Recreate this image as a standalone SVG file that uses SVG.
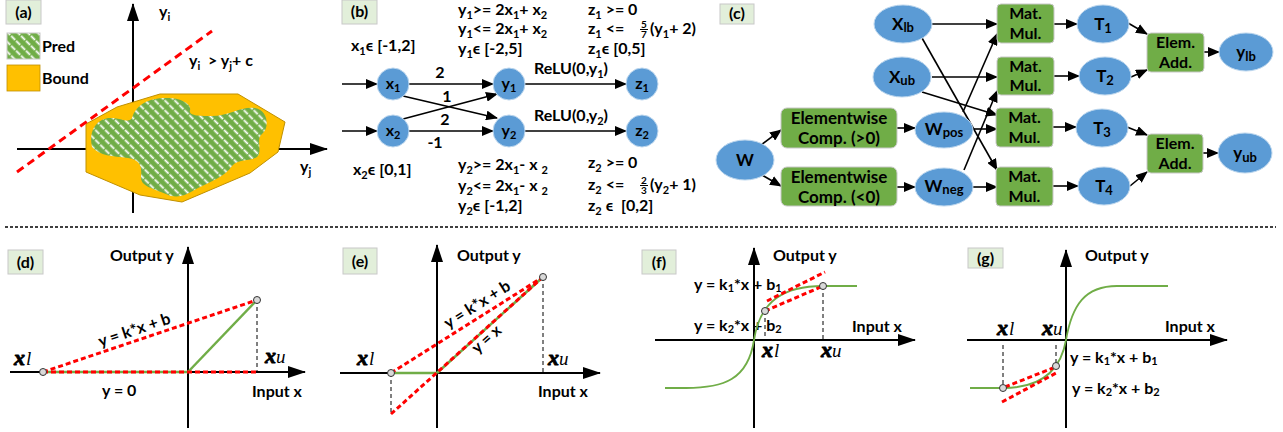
<svg xmlns="http://www.w3.org/2000/svg" width="1283" height="432" viewBox="0 0 1283 432">
<defs>
<style>
.t{font-family:Lato,"Open Sans","Liberation Sans",sans-serif;font-weight:bold;font-size:16px;fill:#000}
.f17{font-size:17px}
.s{font-size:11px}
.ss{font-size:13px}
.fr{font-size:10px}
.m{text-anchor:middle}
.lab{fill:#E2EFDA;stroke:#C8C8C8;stroke-width:1}
.blue{fill:#5B9BD5;stroke:#BDD7EE;stroke-width:1}
.grn{fill:#70AD47;stroke:#C8C8C8;stroke-width:1}
.e{stroke:#000;stroke-width:1.6;fill:none;marker-end:url(#ah)}
.ax{stroke:#000;stroke-width:2;fill:none;marker-end:url(#axh)}
.rd{stroke:#FF0000;stroke-width:3;fill:none;stroke-dasharray:5 3}
.gl{stroke:#70AD47;stroke-width:2.5;fill:none}
.gc{stroke:#70AD47;stroke-width:1.8;fill:none}
.bd{stroke:#000;stroke-width:1;stroke-dasharray:4 3;fill:none}
.pt{fill:#D9D9D9;stroke:#333;stroke-width:1}
.xi{font-family:"Liberation Serif",serif;font-style:italic;font-size:21px;fill:#000}
.xb{font-weight:bold;font-size:22px;stroke:#000;stroke-width:0.9}
.xs{font-weight:normal;font-size:19px}
</style>
<marker id="ah" viewBox="0 0 12 10" refX="11" refY="5" markerWidth="12" markerHeight="10" markerUnits="userSpaceOnUse" orient="auto"><path d="M0,0 L12,5 L0,10 z" fill="#000"/></marker>
<marker id="axh" viewBox="0 0 18 12" refX="17" refY="6" markerWidth="18" markerHeight="12" markerUnits="userSpaceOnUse" orient="auto"><path d="M0,0 L18,6 L0,12 z" fill="#000"/></marker>
<pattern id="hatch" patternUnits="userSpaceOnUse" width="7" height="7" patternTransform="rotate(-45)"><rect width="7" height="7" fill="#70AD47"/><line x1="3.5" y1="0" x2="3.5" y2="7" stroke="#FFFFFF" stroke-width="1.8" stroke-dasharray="4 1.2"/></pattern>
</defs>

<!-- separator -->
<line x1="5" y1="227" x2="1276" y2="227" stroke="#000" stroke-width="1.3" stroke-dasharray="3 2"/>

<!-- ===== Panel (a) ===== -->
<g id="panel-a">
<rect class="lab" x="6" y="0" width="35" height="24"/>
<text class="t m" x="23.5" y="18">(a)</text>
<rect x="7" y="33" width="33" height="26" fill="url(#hatch)" stroke="#C8C8C8"/>
<text class="t" x="42" y="52">Pred</text>
<rect x="7" y="65" width="33" height="26" fill="#FFC000" stroke="#C09000" stroke-width="0.8"/>
<text class="t" x="42" y="84">Bound</text>
<line class="ax" x1="133" y1="213" x2="133" y2="4"/>
<line class="ax" x1="17" y1="149" x2="327" y2="149"/>
<polygon points="86,124 117,107 160,94 238,94 285,122 278,152 250,173 182,202 140,195 86,172" fill="#FFC000" stroke="#C09000" stroke-width="1"/>
<path d="M92,147 C88,130 98,118 110,118 C120,117 128,124 132,118 C136,104 150,98 165,98 C178,97 192,103 190,110 C188,116 200,116 212,116 C228,116 242,106 255,108 C268,110 270,128 262,134 C256,138 262,150 258,156 C252,162 238,158 232,166 C226,176 210,182 198,188 C188,194 178,200 166,194 C152,188 140,186 141,176 C142,166 140,160 128,158 C112,156 100,156 92,147 Z" fill="url(#hatch)"/>
<line x1="17" y1="172" x2="212" y2="31" stroke="#FF0000" stroke-width="3" stroke-dasharray="8 5"/>
<text class="t" x="159" y="17">y<tspan class="s" dy="4">i</tspan></text>
<text class="t" x="189" y="66">y<tspan class="s" dy="4">i</tspan><tspan dy="-4" xml:space="preserve">  &gt; y</tspan><tspan class="s" dy="4">j</tspan><tspan dy="-4">+ c</tspan></text>
<text class="t" x="300" y="172">y<tspan class="s" dy="4">j</tspan></text>
</g>

<!-- ===== Panel (b) ===== -->
<g id="panel-b-label">
<rect class="lab" x="342" y="0" width="35" height="24"/>
<text class="t m" x="359.5" y="17">(b)</text>
</g>
<g id="b-connectors">
<line class="e" x1="342" y1="84" x2="377" y2="84"/>
<line class="e" x1="342" y1="131" x2="377" y2="131"/>
<line class="e" x1="409" y1="84" x2="493" y2="84"/>
<line class="e" x1="409" y1="131" x2="493" y2="131"/>
<line class="e" x1="403" y1="96" x2="497" y2="118"/>
<line class="e" x1="403" y1="119" x2="497" y2="94"/>
<line class="e" x1="525" y1="84" x2="626" y2="84"/>
<line class="e" x1="525" y1="131" x2="626" y2="131"/>
<text class="t m" x="440" y="78">2</text>
<text class="t m" x="447" y="102">1</text>
<text class="t m" x="445" y="125">2</text>
<text class="t m" x="435" y="148">-1</text>
<text class="t" x="534" y="74">ReLU(0,y<tspan class="s" dy="4">1</tspan><tspan dy="-4">)</tspan></text>
<text class="t" x="534" y="121">ReLU(0,y<tspan class="s" dy="4">2</tspan><tspan dy="-4">)</tspan></text>
</g>
<g id="node-x1"><circle class="blue" cx="393" cy="84" r="16"/><text class="t m" x="393" y="89">x<tspan class="s" dy="3">1</tspan></text></g>
<g id="node-x2"><circle class="blue" cx="393" cy="131" r="16"/><text class="t m" x="393" y="136">x<tspan class="s" dy="3">2</tspan></text></g>
<g id="node-y1"><circle class="blue" cx="509" cy="84" r="16"/><text class="t m" x="509" y="89">y<tspan class="s" dy="3">1</tspan></text></g>
<g id="node-y2"><circle class="blue" cx="509" cy="131" r="16"/><text class="t m" x="509" y="136">y<tspan class="s" dy="3">2</tspan></text></g>
<g id="node-z1"><circle class="blue" cx="642" cy="84" r="16"/><text class="t m" x="642" y="89">z<tspan class="s" dy="3">1</tspan></text></g>
<g id="node-z2"><circle class="blue" cx="642" cy="131" r="16"/><text class="t m" x="642" y="136">z<tspan class="s" dy="3">2</tspan></text></g>
<g id="b-texts">
<text class="t" x="351" y="51">x<tspan class="s" dy="4">1</tspan><tspan dy="-4">ϵ [-1,2]</tspan></text>
<text class="t" x="353" y="175">x<tspan class="s" dy="4">2</tspan><tspan dy="-4">ϵ [0,1]</tspan></text>
<text class="t" x="458" y="15">y<tspan class="s" dy="4">1</tspan><tspan dy="-4">&gt;= 2x</tspan><tspan class="s" dy="4">1</tspan><tspan dy="-4">+ x</tspan><tspan class="s" dy="4">2</tspan></text>
<text class="t" x="458" y="34">y<tspan class="s" dy="4">1</tspan><tspan dy="-4">&lt;= 2x</tspan><tspan class="s" dy="4">1</tspan><tspan dy="-4">+ x</tspan><tspan class="s" dy="4">2</tspan></text>
<text class="t" x="458" y="54">y<tspan class="s" dy="4">1</tspan><tspan dy="-4">ϵ [-2,5]</tspan></text>
<text class="t" x="588" y="15">z<tspan class="s" dy="4">1</tspan><tspan dy="-4" xml:space="preserve"> &gt;= 0</tspan></text>
<text class="t" x="588" y="34">z<tspan class="s" dy="4">1</tspan><tspan dy="-4" xml:space="preserve"> &lt;= </tspan></text>
<text class="t fr m" x="644" y="28">5</text>
<line x1="640" y1="29.5" x2="648" y2="29.5" stroke="#000" stroke-width="1"/>
<text class="t fr m" x="644" y="38">7</text>
<text class="t" x="650" y="34">(y<tspan class="s" dy="4">1</tspan><tspan dy="-4">+ 2)</tspan></text>
<text class="t" x="588" y="54">z<tspan class="s" dy="4">1</tspan><tspan dy="-4">ϵ [0,5]</tspan></text>
<text class="t" x="458" y="170">y<tspan class="s" dy="4">2</tspan><tspan dy="-4">&gt;= 2x</tspan><tspan class="s" dy="4">1</tspan><tspan dy="-4" xml:space="preserve">- x </tspan><tspan class="s" dy="4">2</tspan></text>
<text class="t" x="458" y="191">y<tspan class="s" dy="4">2</tspan><tspan dy="-4">&lt;= 2x</tspan><tspan class="s" dy="4">1</tspan><tspan dy="-4" xml:space="preserve">- x </tspan><tspan class="s" dy="4">2</tspan></text>
<text class="t" x="458" y="211">y<tspan class="s" dy="4">2</tspan><tspan dy="-4">ϵ [-1,2]</tspan></text>
<text class="t" x="588" y="168">z<tspan class="s" dy="4">2</tspan><tspan dy="-4" xml:space="preserve"> &gt;= 0</tspan></text>
<text class="t" x="588" y="190">z<tspan class="s" dy="4">2</tspan><tspan dy="-4" xml:space="preserve"> &lt;= </tspan></text>
<text class="t fr m" x="644" y="184">2</text>
<line x1="640" y1="185.5" x2="648" y2="185.5" stroke="#000" stroke-width="1"/>
<text class="t fr m" x="644" y="194">3</text>
<text class="t" x="650" y="190">(y<tspan class="s" dy="4">2</tspan><tspan dy="-4">+ 1)</tspan></text>
<text class="t" x="588" y="211">z<tspan class="s" dy="4">2</tspan><tspan dy="-4" xml:space="preserve"> ϵ  [0,2]</tspan></text>
</g>

<!-- ===== Panel (c) ===== -->
<g id="panel-c-label">
<rect class="lab" x="720" y="4" width="34" height="20"/>
<text class="t m" x="737" y="19">(c)</text>
</g>
<g id="c-connectors">
<line class="e" x1="761" y1="145" x2="781" y2="130"/>
<line class="e" x1="762" y1="175" x2="781" y2="186"/>
<line class="e" x1="897" y1="128" x2="915" y2="128"/>
<line class="e" x1="897" y1="187" x2="915" y2="187"/>
<line class="e" x1="932" y1="24" x2="997" y2="24"/>
<line class="e" x1="922" y1="38" x2="997" y2="170"/>
<line class="e" x1="932" y1="77" x2="997" y2="77"/>
<line class="e" x1="922" y1="92" x2="997" y2="115"/>
<line class="e" x1="963" y1="112" x2="997" y2="34"/>
<line class="e" x1="973" y1="129" x2="997" y2="129"/>
<line class="e" x1="964" y1="170" x2="997" y2="91"/>
<line class="e" x1="973" y1="187" x2="997" y2="187"/>
<line class="e" x1="1054" y1="24" x2="1077" y2="24"/>
<line class="e" x1="1054" y1="76" x2="1079" y2="76"/>
<line class="e" x1="1053" y1="127" x2="1076" y2="127"/>
<line class="e" x1="1053" y1="186" x2="1078" y2="186"/>
<line class="e" x1="1128" y1="23" x2="1147" y2="34"/>
<line class="e" x1="1131" y1="77" x2="1147" y2="70"/>
<line class="e" x1="1127" y1="127" x2="1147" y2="135"/>
<line class="e" x1="1130" y1="186" x2="1147" y2="172"/>
<line class="e" x1="1204" y1="52" x2="1219" y2="52"/>
<line class="e" x1="1203" y1="153" x2="1218" y2="153"/>
</g>
<g id="node-W"><ellipse class="blue" cx="745" cy="160" rx="29" ry="20"/><text class="t f17 m" x="745" y="166">W</text></g>
<g id="node-comp-pos"><rect class="grn" x="781" y="108" width="116" height="40" rx="6"/><text class="t f17 m" x="839" y="124">Elementwise</text><text class="t f17 m" x="839" y="144">Comp. (&gt;0)</text></g>
<g id="node-comp-neg"><rect class="grn" x="781" y="167" width="116" height="39" rx="6"/><text class="t f17 m" x="839" y="183">Elementwise</text><text class="t f17 m" x="839" y="203">Comp. (&lt;0)</text></g>
<g id="node-Xlb"><ellipse class="blue" cx="903" cy="24" rx="29" ry="19"/><text class="t f17 m" x="903" y="30">X<tspan class="ss" dy="2">lb</tspan></text></g>
<g id="node-Xub"><ellipse class="blue" cx="902" cy="77" rx="29" ry="20"/><text class="t f17 m" x="902" y="83">X<tspan class="ss" dy="2">ub</tspan></text></g>
<g id="node-Wpos"><ellipse class="blue" cx="944" cy="130" rx="29" ry="18"/><text class="t f17 m" x="944" y="135">W<tspan class="ss" dy="2">pos</tspan></text></g>
<g id="node-Wneg"><ellipse class="blue" cx="944" cy="187" rx="29" ry="19"/><text class="t f17 m" x="944" y="192">W<tspan class="ss" dy="2">neg</tspan></text></g>
<g id="node-mat1"><rect class="grn" x="997" y="4" width="57" height="39" rx="4"/><text class="t m" x="1025.5" y="19">Mat.</text><text class="t m" x="1025.5" y="39">Mul.</text></g>
<g id="node-mat2"><rect class="grn" x="997" y="57" width="57" height="38" rx="4"/><text class="t m" x="1025.5" y="72">Mat.</text><text class="t m" x="1025.5" y="91">Mul.</text></g>
<g id="node-mat3"><rect class="grn" x="996" y="108" width="57" height="39" rx="4"/><text class="t m" x="1024.5" y="123">Mat.</text><text class="t m" x="1024.5" y="143">Mul.</text></g>
<g id="node-mat4"><rect class="grn" x="996" y="167" width="57" height="39" rx="4"/><text class="t m" x="1024.5" y="182">Mat.</text><text class="t m" x="1024.5" y="202">Mul.</text></g>
<g id="node-T1"><ellipse class="blue" cx="1103" cy="24" rx="26" ry="19"/><text class="t f17 m" x="1103" y="30">T<tspan class="ss" dy="3">1</tspan></text></g>
<g id="node-T2"><ellipse class="blue" cx="1105" cy="76" rx="26" ry="19"/><text class="t f17 m" x="1105" y="82">T<tspan class="ss" dy="3">2</tspan></text></g>
<g id="node-T3"><ellipse class="blue" cx="1102" cy="128" rx="26" ry="19"/><text class="t f17 m" x="1102" y="134">T<tspan class="ss" dy="3">3</tspan></text></g>
<g id="node-T4"><ellipse class="blue" cx="1104" cy="186" rx="26" ry="19"/><text class="t f17 m" x="1104" y="192">T<tspan class="ss" dy="3">4</tspan></text></g>
<g id="node-add1"><rect class="grn" x="1147" y="33" width="57" height="39" rx="4"/><text class="t m" x="1175.5" y="48">Elem.</text><text class="t m" x="1175.5" y="68">Add.</text></g>
<g id="node-add2"><rect class="grn" x="1147" y="134" width="56" height="39" rx="4"/><text class="t m" x="1175" y="149">Elem.</text><text class="t m" x="1175" y="169">Add.</text></g>
<g id="node-ylb"><ellipse class="blue" cx="1246" cy="52" rx="27" ry="19"/><text class="t f17 m" x="1246" y="58">y<tspan class="ss" dy="3">lb</tspan></text></g>
<g id="node-yub"><ellipse class="blue" cx="1245" cy="153" rx="27" ry="20"/><text class="t f17 m" x="1245" y="159">y<tspan class="ss" dy="3">ub</tspan></text></g>

<!-- ===== Panel (d) ===== -->
<g id="panel-d">
<rect class="lab" x="8" y="250" width="35" height="24"/>
<text class="t m" x="25.5" y="268">(d)</text>
<line class="ax" x1="188" y1="428" x2="188" y2="247"/>
<line class="ax" x1="10" y1="372" x2="305" y2="372"/>
<line class="gl" x1="43" y1="372" x2="188" y2="372"/>
<line class="gl" x1="188" y1="372" x2="257" y2="300"/>
<line class="rd" x1="43" y1="372" x2="257" y2="372"/>
<line class="rd" x1="43" y1="372" x2="257" y2="300"/>
<line class="bd" x1="257" y1="300" x2="257" y2="372"/>
<circle class="pt" cx="43" cy="372" r="3.5"/>
<circle class="pt" cx="257" cy="300" r="3.5"/>
<text class="t" x="110" y="261">Output y</text>
<text class="t" x="252" y="397">Input x</text>
<text class="t" x="102" y="396">y = 0</text>
<text class="t m" transform="translate(136,335) rotate(-18.6)">y = k*x + b</text>
<text class="xi" x="14" y="365"><tspan class="xb">x</tspan><tspan class="xs" dx="1">l</tspan></text>
<text class="xi" x="265" y="363"><tspan class="xb">x</tspan><tspan class="xs">u</tspan></text>
</g>

<!-- ===== Panel (e) ===== -->
<g id="panel-e">
<rect class="lab" x="343" y="248" width="34" height="26"/>
<text class="t m" x="360" y="267">(e)</text>
<line class="ax" x1="437" y1="428" x2="437" y2="245"/>
<line class="ax" x1="340" y1="373" x2="600" y2="373"/>
<line class="gl" x1="391" y1="373" x2="437" y2="373"/>
<line class="gl" x1="437" y1="373" x2="543" y2="277"/>
<line class="rd" x1="391" y1="373" x2="543" y2="277"/>
<line class="rd" x1="391" y1="414" x2="543" y2="277"/>
<line class="bd" x1="391" y1="373" x2="391" y2="414"/>
<line class="bd" x1="543" y1="277" x2="543" y2="373"/>
<circle class="pt" cx="391" cy="373" r="3.5"/>
<circle class="pt" cx="543" cy="277" r="3.5"/>
<text class="t" x="457" y="261">Output y</text>
<text class="t" x="538" y="397">Input x</text>
<text class="t m" transform="translate(480,309) rotate(-32.3)">y = k*x + b</text>
<text class="t m" transform="translate(490,343) rotate(-42)">y = x</text>
<text class="xi" x="357" y="365"><tspan class="xb">x</tspan><tspan class="xs" dx="1">l</tspan></text>
<text class="xi" x="548" y="365"><tspan class="xb">x</tspan><tspan class="xs">u</tspan></text>
</g>

<!-- ===== Panel (f) ===== -->
<g id="panel-f">
<rect class="lab" x="642" y="250" width="34" height="24"/>
<text class="t m" x="659" y="268">(f)</text>
<text class="t" x="694" y="290">y = k<tspan class="s" dy="2">1</tspan><tspan dy="-2">*x + b</tspan><tspan class="s" dy="2">1</tspan></text>
<text class="t" x="694" y="331">y = k<tspan class="s" dy="2">2</tspan><tspan dy="-2">*x + b</tspan><tspan class="s" dy="2">2</tspan></text>
<line class="ax" x1="754" y1="428" x2="754" y2="248"/>
<line class="ax" x1="655" y1="340" x2="915" y2="340"/>
<path class="gc" d="M665,388 L686,388 C723,388 748,380 754,340 C760,300 785,286 823,286 L857,286"/>
<line class="rd" x1="767" y1="301" x2="825" y2="272"/>
<line class="rd" x1="765" y1="311" x2="823" y2="286"/>
<line class="bd" x1="765" y1="311" x2="765" y2="337"/>
<line class="bd" x1="823" y1="286" x2="823" y2="340"/>
<circle class="pt" cx="765" cy="311" r="3.5"/>
<circle class="pt" cx="823" cy="286" r="3.5"/>
<text class="t" x="773" y="261">Output y</text>
<text class="t" x="852" y="332">Input x</text>
<text class="xi" x="762" y="357"><tspan class="xb">x</tspan><tspan class="xs" dx="1">l</tspan></text>
<text class="xi" x="821" y="357"><tspan class="xb">x</tspan><tspan class="xs">u</tspan></text>
</g>

<!-- ===== Panel (g) ===== -->
<g id="panel-g">
<rect class="lab" x="968" y="248" width="35" height="20"/>
<text class="t m" x="985.5" y="264">(g)</text>
<line class="ax" x1="1066" y1="428" x2="1066" y2="250"/>
<line class="ax" x1="967" y1="340" x2="1227" y2="340"/>
<path class="gc" d="M970,388 L1003,388 C1035,388 1060,375 1066,340 C1072,305 1085,286 1117,286 L1168,286"/>
<line class="rd" x1="1005" y1="387" x2="1053" y2="368"/>
<line class="rd" x1="1002" y1="402" x2="1058" y2="372"/>
<line class="bd" x1="1003" y1="345" x2="1003" y2="388"/>
<line class="bd" x1="1056" y1="345" x2="1056" y2="366"/>
<circle class="pt" cx="1003" cy="388" r="3.5"/>
<circle class="pt" cx="1056" cy="366" r="3.5"/>
<text class="t" x="1085" y="261">Output y</text>
<text class="t" x="1165" y="332">Input x</text>
<text class="t" x="1070" y="363">y = k<tspan class="s" dy="2">1</tspan><tspan dy="-2">*x + b</tspan><tspan class="s" dy="2">1</tspan></text>
<text class="t" x="1072" y="394">y = k<tspan class="s" dy="2">2</tspan><tspan dy="-2">*x + b</tspan><tspan class="s" dy="2">2</tspan></text>
<text class="xi" x="997" y="335"><tspan class="xb">x</tspan><tspan class="xs" dx="1">l</tspan></text>
<text class="xi" x="1042" y="335"><tspan class="xb">x</tspan><tspan class="xs">u</tspan></text>
</g>
</svg>
